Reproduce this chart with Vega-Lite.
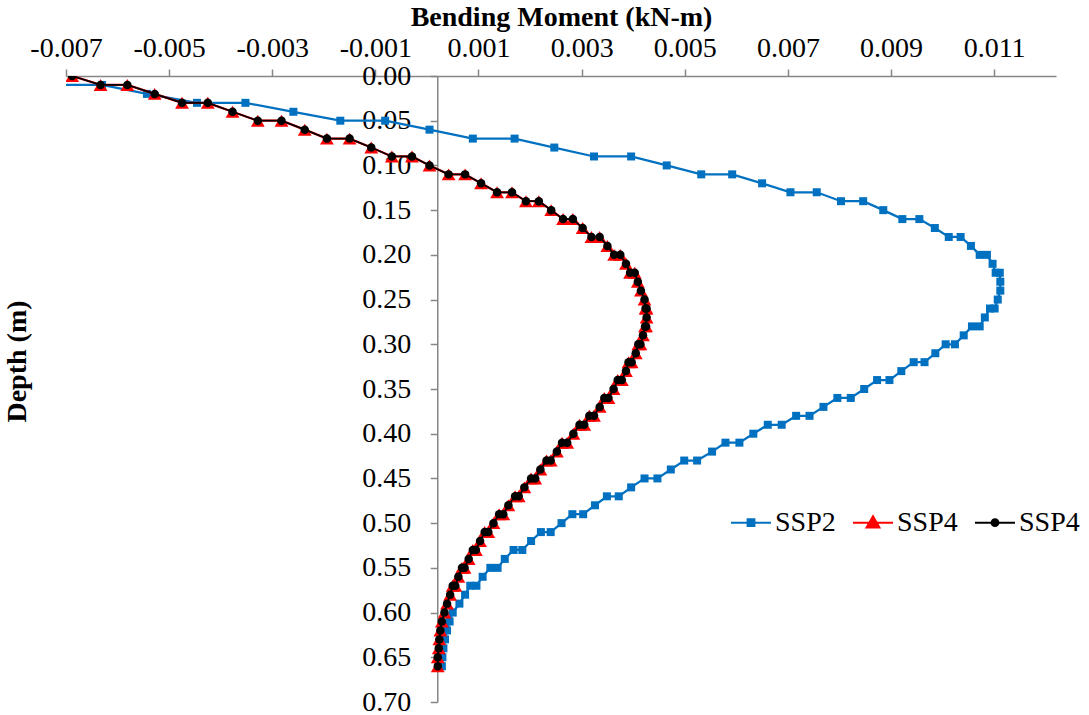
{
  "$schema": "https://vega.github.io/schema/vega-lite/v6.json",
  "width": 990,
  "height": 626,
  "autosize": {"type": "none"},
  "padding": {"left": 66, "top": 76, "right": 33, "bottom": 13},
  "background": "white",
  "config": {"view": {"stroke": null}, "font": "Liberation Serif"},
  "data": {"values": [
    {"s":"SSP2","d":0.00,"m":-0.0080},{"s":"SSP2","d":0.01,"m":-0.0076},{"s":"SSP2","d":0.01,"m":-0.0065},{"s":"SSP2","d":0.02,"m":-0.00563},
    {"s":"SSP2","d":0.03,"m":-0.00466},{"s":"SSP2","d":0.03,"m":-0.00372},{"s":"SSP2","d":0.04,"m":-0.00279},{"s":"SSP2","d":0.05,"m":-0.00188},
    {"s":"SSP2","d":0.05,"m":-0.00101},{"s":"SSP2","d":0.06,"m":-0.00015},{"s":"SSP2","d":0.07,"m":0.00069},{"s":"SSP2","d":0.07,"m":0.00150},
    {"s":"SSP2","d":0.08,"m":0.00227},{"s":"SSP2","d":0.09,"m":0.00304},{"s":"SSP2","d":0.09,"m":0.00376},{"s":"SSP2","d":0.10,"m":0.00445},
    {"s":"SSP2","d":0.11,"m":0.00512},{"s":"SSP2","d":0.11,"m":0.00572},{"s":"SSP2","d":0.12,"m":0.00630},{"s":"SSP2","d":0.13,"m":0.00685},
    {"s":"SSP2","d":0.13,"m":0.00736},{"s":"SSP2","d":0.14,"m":0.00783},{"s":"SSP2","d":0.14,"m":0.00826},{"s":"SSP2","d":0.15,"m":0.00865},
    {"s":"SSP2","d":0.16,"m":0.00902},{"s":"SSP2","d":0.16,"m":0.00935},{"s":"SSP2","d":0.17,"m":0.00965},{"s":"SSP2","d":0.18,"m":0.00992},
    {"s":"SSP2","d":0.18,"m":0.01015},{"s":"SSP2","d":0.19,"m":0.01035},{"s":"SSP2","d":0.20,"m":0.01052},{"s":"SSP2","d":0.20,"m":0.01066},
    {"s":"SSP2","d":0.21,"m":0.01077},{"s":"SSP2","d":0.22,"m":0.01083},{"s":"SSP2","d":0.22,"m":0.01091},{"s":"SSP2","d":0.23,"m":0.01092},
    {"s":"SSP2","d":0.24,"m":0.01092},{"s":"SSP2","d":0.25,"m":0.01087},{"s":"SSP2","d":0.26,"m":0.01081},{"s":"SSP2","d":0.26,"m":0.01072},
    {"s":"SSP2","d":0.27,"m":0.01062},{"s":"SSP2","d":0.28,"m":0.01052},{"s":"SSP2","d":0.28,"m":0.01037},{"s":"SSP2","d":0.29,"m":0.01021},
    {"s":"SSP2","d":0.30,"m":0.01004},{"s":"SSP2","d":0.30,"m":0.00986},{"s":"SSP2","d":0.31,"m":0.00966},{"s":"SSP2","d":0.32,"m":0.00945},
    {"s":"SSP2","d":0.32,"m":0.00924},{"s":"SSP2","d":0.33,"m":0.00900},{"s":"SSP2","d":0.34,"m":0.00877},{"s":"SSP2","d":0.34,"m":0.00853},
    {"s":"SSP2","d":0.35,"m":0.00828},{"s":"SSP2","d":0.36,"m":0.00802},{"s":"SSP2","d":0.36,"m":0.00776},{"s":"SSP2","d":0.37,"m":0.00749},
    {"s":"SSP2","d":0.38,"m":0.00722},{"s":"SSP2","d":0.38,"m":0.00696},{"s":"SSP2","d":0.39,"m":0.00668},{"s":"SSP2","d":0.39,"m":0.00641},
    {"s":"SSP2","d":0.40,"m":0.00613},{"s":"SSP2","d":0.41,"m":0.00586},{"s":"SSP2","d":0.41,"m":0.00559},{"s":"SSP2","d":0.42,"m":0.00533},
    {"s":"SSP2","d":0.43,"m":0.00504},{"s":"SSP2","d":0.43,"m":0.00479},{"s":"SSP2","d":0.44,"m":0.00453},{"s":"SSP2","d":0.45,"m":0.00427},
    {"s":"SSP2","d":0.45,"m":0.00402},{"s":"SSP2","d":0.46,"m":0.00376},{"s":"SSP2","d":0.47,"m":0.00352},{"s":"SSP2","d":0.47,"m":0.00329},
    {"s":"SSP2","d":0.48,"m":0.00306},{"s":"SSP2","d":0.49,"m":0.00283},{"s":"SSP2","d":0.49,"m":0.00262},{"s":"SSP2","d":0.50,"m":0.00241},
    {"s":"SSP2","d":0.51,"m":0.00220},{"s":"SSP2","d":0.51,"m":0.00201},{"s":"SSP2","d":0.52,"m":0.00182},{"s":"SSP2","d":0.53,"m":0.00165},
    {"s":"SSP2","d":0.53,"m":0.00148},{"s":"SSP2","d":0.54,"m":0.00131},{"s":"SSP2","d":0.55,"m":0.00117},{"s":"SSP2","d":0.55,"m":0.00103},
    {"s":"SSP2","d":0.56,"m":0.00088},{"s":"SSP2","d":0.57,"m":0.00076},{"s":"SSP2","d":0.57,"m":0.00064},{"s":"SSP2","d":0.58,"m":0.00054},
    {"s":"SSP2","d":0.59,"m":0.00043},{"s":"SSP2","d":0.60,"m":0.00030},{"s":"SSP2","d":0.61,"m":0.00024},{"s":"SSP2","d":0.62,"m":0.00019},
    {"s":"SSP2","d":0.63,"m":0.00015},{"s":"SSP2","d":0.64,"m":0.00012},{"s":"SSP2","d":0.65,"m":0.00010},{"s":"SSP2","d":0.66,"m":0.00009},

    {"s":"SSP4a","d":0.00,"m":-0.00708},{"s":"SSP4a","d":0.01,"m":-0.00653},{"s":"SSP4a","d":0.01,"m":-0.00601},{"s":"SSP4a","d":0.02,"m":-0.00548},
    {"s":"SSP4a","d":0.03,"m":-0.00495},{"s":"SSP4a","d":0.03,"m":-0.00445},{"s":"SSP4a","d":0.04,"m":-0.00397},{"s":"SSP4a","d":0.05,"m":-0.00348},
    {"s":"SSP4a","d":0.05,"m":-0.00302},{"s":"SSP4a","d":0.06,"m":-0.00257},{"s":"SSP4a","d":0.07,"m":-0.00214},{"s":"SSP4a","d":0.07,"m":-0.00170},
    {"s":"SSP4a","d":0.08,"m":-0.00128},{"s":"SSP4a","d":0.09,"m":-0.00088},{"s":"SSP4a","d":0.09,"m":-0.00049},{"s":"SSP4a","d":0.10,"m":-0.00015},
    {"s":"SSP4a","d":0.11,"m":0.00022},{"s":"SSP4a","d":0.11,"m":0.00054},{"s":"SSP4a","d":0.12,"m":0.00085},{"s":"SSP4a","d":0.13,"m":0.00116},
    {"s":"SSP4a","d":0.13,"m":0.00145},{"s":"SSP4a","d":0.14,"m":0.00172},{"s":"SSP4a","d":0.14,"m":0.00197},{"s":"SSP4a","d":0.15,"m":0.00221},
    {"s":"SSP4a","d":0.16,"m":0.00244},{"s":"SSP4a","d":0.16,"m":0.00263},{"s":"SSP4a","d":0.17,"m":0.00282},{"s":"SSP4a","d":0.18,"m":0.00299},
    {"s":"SSP4a","d":0.18,"m":0.00315},{"s":"SSP4a","d":0.19,"m":0.00330},{"s":"SSP4a","d":0.20,"m":0.00343},{"s":"SSP4a","d":0.20,"m":0.00355},
    {"s":"SSP4a","d":0.21,"m":0.00366},{"s":"SSP4a","d":0.22,"m":0.00374},{"s":"SSP4a","d":0.22,"m":0.00383},{"s":"SSP4a","d":0.23,"m":0.00389},
    {"s":"SSP4a","d":0.24,"m":0.00395},{"s":"SSP4a","d":0.25,"m":0.00402},{"s":"SSP4a","d":0.26,"m":0.00404},{"s":"SSP4a","d":0.26,"m":0.00406},
    {"s":"SSP4a","d":0.27,"m":0.00406},{"s":"SSP4a","d":0.28,"m":0.00405},{"s":"SSP4a","d":0.28,"m":0.00403},{"s":"SSP4a","d":0.29,"m":0.00399},
    {"s":"SSP4a","d":0.30,"m":0.00394},{"s":"SSP4a","d":0.30,"m":0.00390},{"s":"SSP4a","d":0.31,"m":0.00385},{"s":"SSP4a","d":0.32,"m":0.00377},
    {"s":"SSP4a","d":0.32,"m":0.00371},{"s":"SSP4a","d":0.33,"m":0.00366},{"s":"SSP4a","d":0.34,"m":0.00358},{"s":"SSP4a","d":0.34,"m":0.00350},
    {"s":"SSP4a","d":0.35,"m":0.00342},{"s":"SSP4a","d":0.36,"m":0.00332},{"s":"SSP4a","d":0.36,"m":0.00324},{"s":"SSP4a","d":0.37,"m":0.00315},
    {"s":"SSP4a","d":0.38,"m":0.00304},{"s":"SSP4a","d":0.38,"m":0.00295},{"s":"SSP4a","d":0.39,"m":0.00285},{"s":"SSP4a","d":0.39,"m":0.00276},
    {"s":"SSP4a","d":0.40,"m":0.00264},{"s":"SSP4a","d":0.41,"m":0.00252},{"s":"SSP4a","d":0.41,"m":0.00242},{"s":"SSP4a","d":0.42,"m":0.00232},
    {"s":"SSP4a","d":0.43,"m":0.00220},{"s":"SSP4a","d":0.43,"m":0.00212},{"s":"SSP4a","d":0.44,"m":0.00200},{"s":"SSP4a","d":0.45,"m":0.00190},
    {"s":"SSP4a","d":0.45,"m":0.00182},{"s":"SSP4a","d":0.46,"m":0.00169},{"s":"SSP4a","d":0.47,"m":0.00158},{"s":"SSP4a","d":0.47,"m":0.00151},
    {"s":"SSP4a","d":0.48,"m":0.00138},{"s":"SSP4a","d":0.49,"m":0.00128},{"s":"SSP4a","d":0.49,"m":0.00120},{"s":"SSP4a","d":0.50,"m":0.00109},
    {"s":"SSP4a","d":0.51,"m":0.00099},{"s":"SSP4a","d":0.51,"m":0.00092},{"s":"SSP4a","d":0.52,"m":0.00083},{"s":"SSP4a","d":0.53,"m":0.00075},
    {"s":"SSP4a","d":0.53,"m":0.00069},{"s":"SSP4a","d":0.54,"m":0.00061},{"s":"SSP4a","d":0.55,"m":0.00053},{"s":"SSP4a","d":0.55,"m":0.00048},
    {"s":"SSP4a","d":0.56,"m":0.00041},{"s":"SSP4a","d":0.57,"m":0.00035},{"s":"SSP4a","d":0.57,"m":0.00030},{"s":"SSP4a","d":0.58,"m":0.00025},
    {"s":"SSP4a","d":0.59,"m":0.00019},{"s":"SSP4a","d":0.60,"m":0.00014},{"s":"SSP4a","d":0.61,"m":0.00009},{"s":"SSP4a","d":0.62,"m":0.00006},
    {"s":"SSP4a","d":0.63,"m":0.00004},{"s":"SSP4a","d":0.64,"m":0.00003},{"s":"SSP4a","d":0.65,"m":0.00001},{"s":"SSP4a","d":0.66,"m":0.00001},

    {"s":"SSP4b","d":0.00,"m":-0.00708},{"s":"SSP4b","d":0.01,"m":-0.00653},{"s":"SSP4b","d":0.01,"m":-0.00601},{"s":"SSP4b","d":0.02,"m":-0.00548},
    {"s":"SSP4b","d":0.03,"m":-0.00495},{"s":"SSP4b","d":0.03,"m":-0.00445},{"s":"SSP4b","d":0.04,"m":-0.00397},{"s":"SSP4b","d":0.05,"m":-0.00348},
    {"s":"SSP4b","d":0.05,"m":-0.00302},{"s":"SSP4b","d":0.06,"m":-0.00257},{"s":"SSP4b","d":0.07,"m":-0.00214},{"s":"SSP4b","d":0.07,"m":-0.00170},
    {"s":"SSP4b","d":0.08,"m":-0.00128},{"s":"SSP4b","d":0.09,"m":-0.00088},{"s":"SSP4b","d":0.09,"m":-0.00049},{"s":"SSP4b","d":0.10,"m":-0.00015},
    {"s":"SSP4b","d":0.11,"m":0.00022},{"s":"SSP4b","d":0.11,"m":0.00054},{"s":"SSP4b","d":0.12,"m":0.00085},{"s":"SSP4b","d":0.13,"m":0.00116},
    {"s":"SSP4b","d":0.13,"m":0.00145},{"s":"SSP4b","d":0.14,"m":0.00172},{"s":"SSP4b","d":0.14,"m":0.00197},{"s":"SSP4b","d":0.15,"m":0.00221},
    {"s":"SSP4b","d":0.16,"m":0.00244},{"s":"SSP4b","d":0.16,"m":0.00263},{"s":"SSP4b","d":0.17,"m":0.00282},{"s":"SSP4b","d":0.18,"m":0.00299},
    {"s":"SSP4b","d":0.18,"m":0.00315},{"s":"SSP4b","d":0.19,"m":0.00330},{"s":"SSP4b","d":0.20,"m":0.00343},{"s":"SSP4b","d":0.20,"m":0.00355},
    {"s":"SSP4b","d":0.21,"m":0.00366},{"s":"SSP4b","d":0.22,"m":0.00374},{"s":"SSP4b","d":0.22,"m":0.00383},{"s":"SSP4b","d":0.23,"m":0.00389},
    {"s":"SSP4b","d":0.24,"m":0.00395},{"s":"SSP4b","d":0.25,"m":0.00402},{"s":"SSP4b","d":0.26,"m":0.00404},{"s":"SSP4b","d":0.26,"m":0.00406},
    {"s":"SSP4b","d":0.27,"m":0.00406},{"s":"SSP4b","d":0.28,"m":0.00405},{"s":"SSP4b","d":0.28,"m":0.00403},{"s":"SSP4b","d":0.29,"m":0.00399},
    {"s":"SSP4b","d":0.30,"m":0.00394},{"s":"SSP4b","d":0.30,"m":0.00390},{"s":"SSP4b","d":0.31,"m":0.00385},{"s":"SSP4b","d":0.32,"m":0.00377},
    {"s":"SSP4b","d":0.32,"m":0.00371},{"s":"SSP4b","d":0.33,"m":0.00366},{"s":"SSP4b","d":0.34,"m":0.00358},{"s":"SSP4b","d":0.34,"m":0.00350},
    {"s":"SSP4b","d":0.35,"m":0.00342},{"s":"SSP4b","d":0.36,"m":0.00332},{"s":"SSP4b","d":0.36,"m":0.00324},{"s":"SSP4b","d":0.37,"m":0.00315},
    {"s":"SSP4b","d":0.38,"m":0.00304},{"s":"SSP4b","d":0.38,"m":0.00295},{"s":"SSP4b","d":0.39,"m":0.00285},{"s":"SSP4b","d":0.39,"m":0.00276},
    {"s":"SSP4b","d":0.40,"m":0.00264},{"s":"SSP4b","d":0.41,"m":0.00252},{"s":"SSP4b","d":0.41,"m":0.00242},{"s":"SSP4b","d":0.42,"m":0.00232},
    {"s":"SSP4b","d":0.43,"m":0.00220},{"s":"SSP4b","d":0.43,"m":0.00212},{"s":"SSP4b","d":0.44,"m":0.00200},{"s":"SSP4b","d":0.45,"m":0.00190},
    {"s":"SSP4b","d":0.45,"m":0.00182},{"s":"SSP4b","d":0.46,"m":0.00169},{"s":"SSP4b","d":0.47,"m":0.00158},{"s":"SSP4b","d":0.47,"m":0.00151},
    {"s":"SSP4b","d":0.48,"m":0.00138},{"s":"SSP4b","d":0.49,"m":0.00128},{"s":"SSP4b","d":0.49,"m":0.00120},{"s":"SSP4b","d":0.50,"m":0.00109},
    {"s":"SSP4b","d":0.51,"m":0.00099},{"s":"SSP4b","d":0.51,"m":0.00092},{"s":"SSP4b","d":0.52,"m":0.00083},{"s":"SSP4b","d":0.53,"m":0.00075},
    {"s":"SSP4b","d":0.53,"m":0.00069},{"s":"SSP4b","d":0.54,"m":0.00061},{"s":"SSP4b","d":0.55,"m":0.00053},{"s":"SSP4b","d":0.55,"m":0.00048},
    {"s":"SSP4b","d":0.56,"m":0.00041},{"s":"SSP4b","d":0.57,"m":0.00035},{"s":"SSP4b","d":0.57,"m":0.00030},{"s":"SSP4b","d":0.58,"m":0.00025},
    {"s":"SSP4b","d":0.59,"m":0.00019},{"s":"SSP4b","d":0.60,"m":0.00014},{"s":"SSP4b","d":0.61,"m":0.00009},{"s":"SSP4b","d":0.62,"m":0.00006},
    {"s":"SSP4b","d":0.63,"m":0.00004},{"s":"SSP4b","d":0.64,"m":0.00003},{"s":"SSP4b","d":0.65,"m":0.00001},{"s":"SSP4b","d":0.66,"m":0.00001}
  ]},
  "encoding": {
    "x": {
      "field": "m", "type": "quantitative",
      "scale": {"domain": [-0.0072, 0.012], "nice": false, "zero": false},
      "axis": {
        "orient": "top",
        "values": [-0.0072, -0.0052, -0.0032, -0.0012, 0.0008, 0.0028, 0.0048, 0.0068, 0.0088, 0.0108],
        "format": ".3f",
        "labelExpr": "replace(datum.label, '\u2212', '-')",
        "title": "Bending Moment (kN-m)",
        "titleFont": "Liberation Serif", "titleFontSize": 28, "titleFontWeight": "bold", "titleColor": "#000000",
        "titleY": -51, "titleBaseline": "alphabetic",
        "labelFont": "Liberation Serif", "labelFontSize": 28, "labelColor": "#000000",
        "labelBaseline": "alphabetic", "labelPadding": 13,
        "labelFlush": false, "labelOverlap": false,
        "domainColor": "#868686", "domainWidth": 1.5,
        "tickColor": "#868686", "tickWidth": 1.5, "tickSize": 7,
        "grid": false
      }
    },
    "y": {
      "field": "d", "type": "quantitative",
      "scale": {"domain": [0, 0.7], "reverse": true, "nice": false, "zero": false},
      "axis": {
        "orient": "left",
        "offset": -371.25,
        "values": [0, 0.05, 0.1, 0.15, 0.2, 0.25, 0.3, 0.35, 0.4, 0.45, 0.5, 0.55, 0.6, 0.65, 0.7],
        "format": ".2f",
        "title": "Depth (m)",
        "titleFont": "Liberation Serif", "titleFontSize": 28, "titleFontWeight": "bold", "titleColor": "#000000",
        "titleAngle": -90, "titleAlign": "center", "titleBaseline": "alphabetic",
        "titleX": -411.5, "titleY": 285,
        "labelFont": "Liberation Serif", "labelFontSize": 28, "labelColor": "#000000",
        "labelPadding": 19.5, "labelFlush": false, "labelOverlap": false,
        "domainColor": "#868686", "domainWidth": 1.5,
        "tickColor": "#868686", "tickWidth": 1.5, "tickSize": 7,
        "grid": false
      }
    },
    "color": {
      "field": "s", "type": "nominal",
      "scale": {"domain": ["SSP2", "SSP4a", "SSP4b"], "range": ["#0070C0", "#FF0000", "#000000"]},
      "legend": {
        "orient": "none", "legendX": 664, "legendY": 425.7,
        "direction": "horizontal", "title": null, "padding": 0,
        "labelExpr": "substring(datum.label, 0, 4)",
        "labelFont": "Liberation Serif", "labelFontSize": 28, "labelColor": "#000000",
        "labelOffset": 3, "labelLimit": 0, "columnPadding": 13,
        "symbolSize": 1600, "symbolStrokeWidth": 2, "symbolOpacity": 1,
        "encode": {
          "symbols": {
            "update": {
              "shape": {"signal": "datum.value == 'SSP2' ? 'M-1,0H1M-0.17,-0.17H0.17V0.17H-0.17Z' : (datum.value == 'SSP4a' ? 'M-1,0H1M0,-0.32L0.32,0.24H-0.32Z' : 'M-1,0H1M-0.17,0A0.17,0.17 0 1,0 0.17,0A0.17,0.17 0 1,0 -0.17,0Z')"},
              "fill": {"signal": "scale('color', datum.value)"},
              "stroke": {"signal": "scale('color', datum.value)"},
              "strokeWidth": {"value": 2},
              "size": {"value": 1600},
              "opacity": {"value": 1}
            }
          }
        }
      }
    },
    "order": {"field": "d", "type": "quantitative"}
  },
  "layer": [
    {"transform": [{"filter": "datum.s == 'SSP2'"}], "mark": {"type": "line", "clip": true, "strokeWidth": 2.25}},
    {"transform": [{"filter": "datum.s == 'SSP2'"}], "mark": {"type": "point", "clip": true, "shape": "square", "size": 64, "filled": true, "opacity": 1}},
    {"transform": [{"filter": "datum.s == 'SSP4a'"}], "mark": {"type": "line", "clip": true, "strokeWidth": 2.25}},
    {"transform": [{"filter": "datum.s == 'SSP4a'"}], "mark": {"type": "point", "clip": true, "shape": "triangle-up", "size": 190, "filled": true, "opacity": 1}},
    {"transform": [{"filter": "datum.s == 'SSP4b'"}], "mark": {"type": "line", "clip": true, "strokeWidth": 1.75}},
    {"transform": [{"filter": "datum.s == 'SSP4b'"}], "mark": {"type": "point", "clip": true, "shape": "circle", "size": 72, "filled": true, "opacity": 1}}
  ]
}
